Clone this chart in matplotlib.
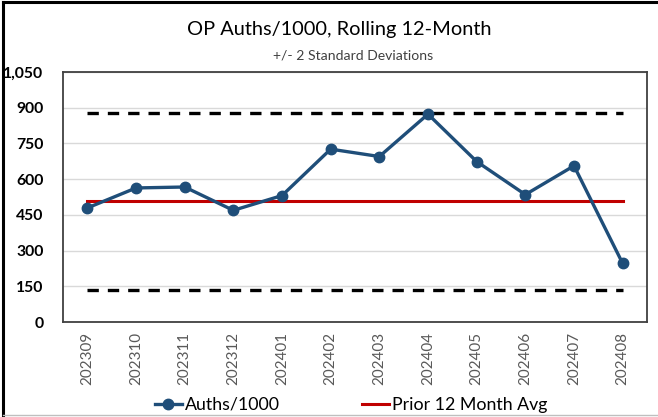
import matplotlib
matplotlib.use("Agg")
import matplotlib.pyplot as plt
from matplotlib.lines import Line2D
from matplotlib.ticker import FuncFormatter

months = ["202309", "202310", "202311", "202312", "202401", "202402",
          "202403", "202404", "202405", "202406", "202407", "202408"]
auths = [479, 563, 567, 469, 531, 726, 695, 873, 674, 535, 656, 246]
prior_avg = 507
upper_2sd = 878
lower_2sd = 134

plt.rcParams['font.family'] = ['Lato', 'DejaVu Sans']

W, H = 658, 417
fig = plt.figure(figsize=(W / 100, H / 100), dpi=100)
ax = fig.add_axes([63 / W, 1 - 322 / H, (647 - 63) / W, (322 - 72) / H])

x = list(range(len(months)))
dash = (0, (3.4, 2.7))
ax.plot(x, [upper_2sd] * len(x), color="black", lw=2.4, ls=dash, zorder=2)
ax.plot(x, [lower_2sd] * len(x), color="black", lw=2.4, ls=dash, zorder=2)
ax.plot(x, [prior_avg] * len(x), color="#C00000", lw=2.2, zorder=3)
ax.plot(x, auths, color="#1F4E79", lw=2.4, marker="o", ms=7.5, zorder=4)

ax.set_xlim(-0.5, len(months) - 0.5)
ax.set_ylim(0, 1050)
ax.set_yticks(range(0, 1051, 150))
ax.yaxis.set_major_formatter(FuncFormatter(lambda v, p: f"{int(v):,}"))
ax.grid(axis="y", color="#D9D9D9", lw=1)
ax.set_axisbelow(True)
ax.set_xticks(x)
ax.set_xticklabels(months, rotation=90, fontsize=10.9, color="#595959")
for lbl in ax.get_yticklabels():
    lbl.set_fontweight("bold")
    lbl.set_fontsize(11.3)
ax.tick_params(axis="both", length=0)
ax.tick_params(axis="x", pad=7)
ax.tick_params(axis="y", pad=14)
for s in ax.spines.values():
    s.set_color("#404040")
    s.set_linewidth(1.3)

fig.text(339 / W, 1 - 30 / H, "OP Auths/1000, Rolling 12-Month", ha="center", va="center", fontsize=14.4)
fig.text(353 / W, 1 - 55 / H, "+/- 2 Standard Deviations", ha="center", va="center", fontsize=10.1, color="#404040")

handles = [Line2D([0], [0], color="#1F4E79", lw=2.4, marker="o", ms=7.5),
           Line2D([0], [0], color="#C00000", lw=2.2)]
fig.legend(handles, ["Auths/1000", "Prior 12 Month Avg"], loc="center",
           bbox_to_anchor=(351 / W, 1 - 405 / H), ncol=2, frameon=False, fontsize=12.8,
           handlelength=1.55, handletextpad=0.15, columnspacing=4.6)

# outer chart border: black left/top, light gray bottom
fig.add_artist(Line2D([3 / W, 3 / W], [0, 1 - 2 / H], transform=fig.transFigure, color="black", lw=2.2))
fig.add_artist(Line2D([3 / W, 1], [1 - 2 / H, 1 - 2 / H], transform=fig.transFigure, color="black", lw=2.2))
fig.add_artist(Line2D([3 / W, 1], [1 - 415 / H, 1 - 415 / H], transform=fig.transFigure, color="#BFBFBF", lw=1))

fig.savefig("out.png", dpi=100)
